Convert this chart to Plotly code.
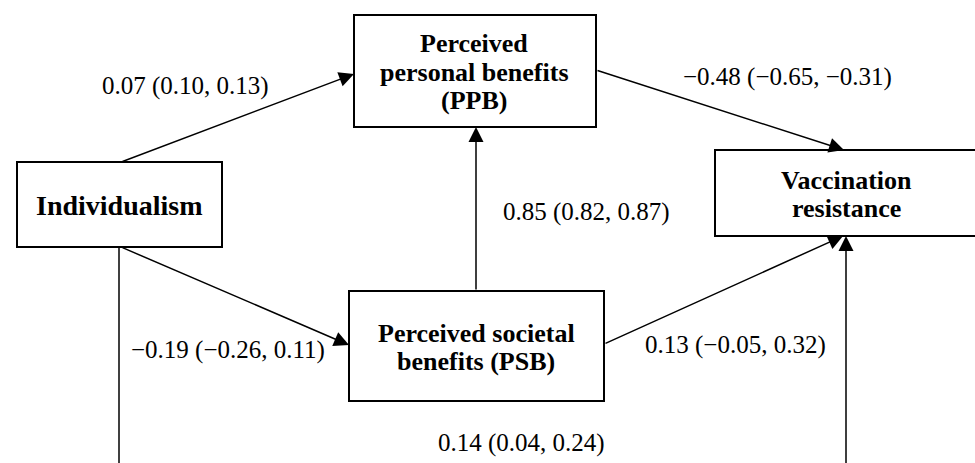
import plotly.graph_objects as go

# ---- data ----
node_names = ["Individualism", "Perceived<br>personal benefits<br>(PPB)",
              "Vaccination<br>resistance", "Perceived societal<br>benefits (PSB)"]
edge_labels = ["0.07 (0.10, 0.13)", "\u22120.48 (\u22120.65, \u22120.31)",
               "0.85 (0.82, 0.87)", "\u22120.19 (\u22120.26, 0.11)",
               "0.13 (\u22120.05, 0.32)", "0.14 (0.04, 0.24)"]

# ---- layout (pixel coordinates) ----
W, H = 975, 463
FONT = "Times New Roman, Liberation Serif, Tinos, DejaVu Serif, serif"
boxes = [(17, 162, 222, 247), (354, 15, 596, 127), (715, 150, 980, 236), (349, 291, 604, 401)]
text_pos = [(119, 205), (474, 72), (846, 194.5), (476, 347.5)]
node_font_size = [28, 26, 26, 26]
LINE_GAP = 28.5
label_pos = [(185, 86), (787, 77), (586, 212), (228, 350), (735, 345), (521, 443)]
# arrows: (tail_x, tail_y, tip_x, tip_y)
arrows = [(121, 162, 354, 74), (596, 70, 844, 150), (476, 291, 476, 127),
          (121, 247, 349, 345), (604, 344, 843, 236), (846, 470, 846, 236)]
plain_lines = [(119, 247, 119, 470)]

fig = go.Figure()
fig.add_trace(go.Scatter(x=[0, W], y=[0, H], mode="markers", marker=dict(opacity=0),
                         hoverinfo="skip", showlegend=False))

for (x0, y0, x1, y1) in boxes:
    fig.add_shape(type="rect", x0=x0, y0=y0, x1=x1, y1=y1,
                  line=dict(color="black", width=2), fillcolor="white", layer="below")

for (x0, y0, x1, y1) in plain_lines:
    fig.add_shape(type="line", x0=x0, y0=y0, x1=x1, y1=y1, line=dict(color="black", width=1.5))

for (tx, ty, hx, hy) in arrows:
    fig.add_annotation(x=hx, y=hy, ax=tx, ay=ty, xref="x", yref="y", axref="x", ayref="y",
                       text="", showarrow=True, arrowhead=2, arrowsize=2, arrowwidth=1.5,
                       arrowcolor="black", standoff=0)

for name, (x, y), fs in zip(node_names, text_pos, node_font_size):
    lines = name.split("<br>")
    n = len(lines)
    for i, ln in enumerate(lines):
        yy = y + (i - (n - 1) / 2) * LINE_GAP
        fig.add_annotation(x=x, y=yy, xref="x", yref="y", text="<b>" + ln + "</b>",
                           showarrow=False, font=dict(family=FONT, size=fs, color="black"))

for lab, (x, y) in zip(edge_labels, label_pos):
    fig.add_annotation(x=x, y=y, xref="x", yref="y", text=lab, showarrow=False,
                       font=dict(family=FONT, size=25, color="black"))

fig.update_xaxes(range=[0, W], visible=False, fixedrange=True)
fig.update_yaxes(range=[H, 0], visible=False, fixedrange=True)
fig.update_layout(width=W, height=H, margin=dict(l=0, r=0, t=0, b=0),
                  plot_bgcolor="white", paper_bgcolor="white", showlegend=False,
                  font=dict(family=FONT))
fig.write_html("out.html", config={"displayModeBar": False},
               post_script="document.body.style.margin='0px';")
